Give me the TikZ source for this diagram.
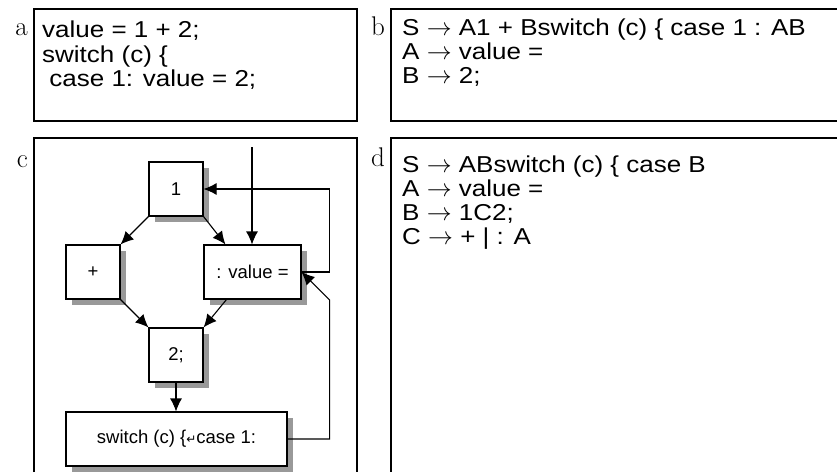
\documentclass[tikz,border=0pt]{standalone}
\usepackage{fontspec}
\newfontfamily\codefont{Liberation Sans}
\newfontfamily\widefont[FakeStretch=1.13]{Liberation Sans}
\newfontfamily\symfont{DejaVu Sans}
\usetikzlibrary{arrows.meta, positioning, shadows}

\tikzset{
  panel/.style={line width=1.1pt},
  tag/.style={anchor=base east, inner sep=0pt, font=\fontsize{27}{30}\selectfont},
  code/.style={anchor=base west, inner sep=0pt, font=\widefont\fontsize{23}{26}\selectfont},
  blk/.style={draw, line width=1.1pt, fill=white, minimum width=54pt, minimum height=54pt,
    inner sep=0pt, font=\codefont\fontsize{18.5}{22}\selectfont,
    drop shadow={shadow xshift=6pt, shadow yshift=-6pt, fill=black!40, opacity=1}},
  arr/.style={-{Latex[length=13pt,width=12pt]}, line width=1.1pt}
}

\begin{document}
\begin{tikzpicture}[x=1pt, y=-1pt]
\useasboundingbox (0,0) rectangle (837,472);

% panel frames
\draw[panel] (34,9) rectangle (357,121);
\draw[panel] (837,9) -- (391,9) -- (391,121) -- (837,121);
\draw[panel] (34,472) -- (34,138) -- (357,138) -- (357,472);
\draw[panel] (837,138) -- (391,138) -- (391,472);

% panel letters
\node[tag] (taga) at (28,35) {a};
\node[tag] (tagb) at (385,35) {b};
\node[tag] (tagc) at (28,167) {c};
\node[tag] (tagd) at (385,166) {d};

% a: source text
\node[code] (a1) at (42,37) {value = 1 + 2;};
\node[code] (a2) at (42,62) {switch (c) \{};
\node[code] (a3) at (42,86) {\ case 1: value = 2;};

% b: grammar
\node[code] (b1) at (402,35) {S $\rightarrow$ A1 + Bswitch (c) \{ case 1 : AB};
\node[code] (b2) at (402,59) {A $\rightarrow$ value =};
\node[code] (b3) at (402,83) {B $\rightarrow$ 2;};

% c: graph
\node[blk] (one) at (176,189) {1};
\node[blk] (plus) at (93,272) {+};
\node[blk, minimum width=97pt] (val) at (252.5,272) {: value =};
\node[blk] (two) at (176,355) {2;};
\node[blk, minimum width=221pt] (sw) at (176.5,439)
  {switch (c) \{{\symfont\fontsize{12}{12}\selectfont ↵}case 1:};

\coordinate (entry) at (252,147);
\draw[arr] (entry) -- (entry |- val.north);
\draw[arr] (one.south west) -- (plus.north east);
\draw[arr] (one.south east) -- ([xshift=22pt]val.north west);
\draw[arr] (plus.south east) -- (two.north west);
\draw[arr] ([xshift=23pt]val.south west) -- (two.north east);
\draw[arr] (two.south) -- (two.south |- sw.north);
\draw[arr] (val.east) -- ++(28,0) |- (one.east);
\draw[arr] (sw.east) -| ++(42,-139) -- (val.east);

% d: grammar
\node[code] (d1) at (402,172) {S $\rightarrow$ ABswitch (c) \{ case B};
\node[code] (d2) at (402,196) {A $\rightarrow$ value =};
\node[code] (d3) at (402,220) {B $\rightarrow$ 1C2;};
\node[code] (d4) at (402,244) {C $\rightarrow$ + | : A};
\end{tikzpicture}
\end{document}
